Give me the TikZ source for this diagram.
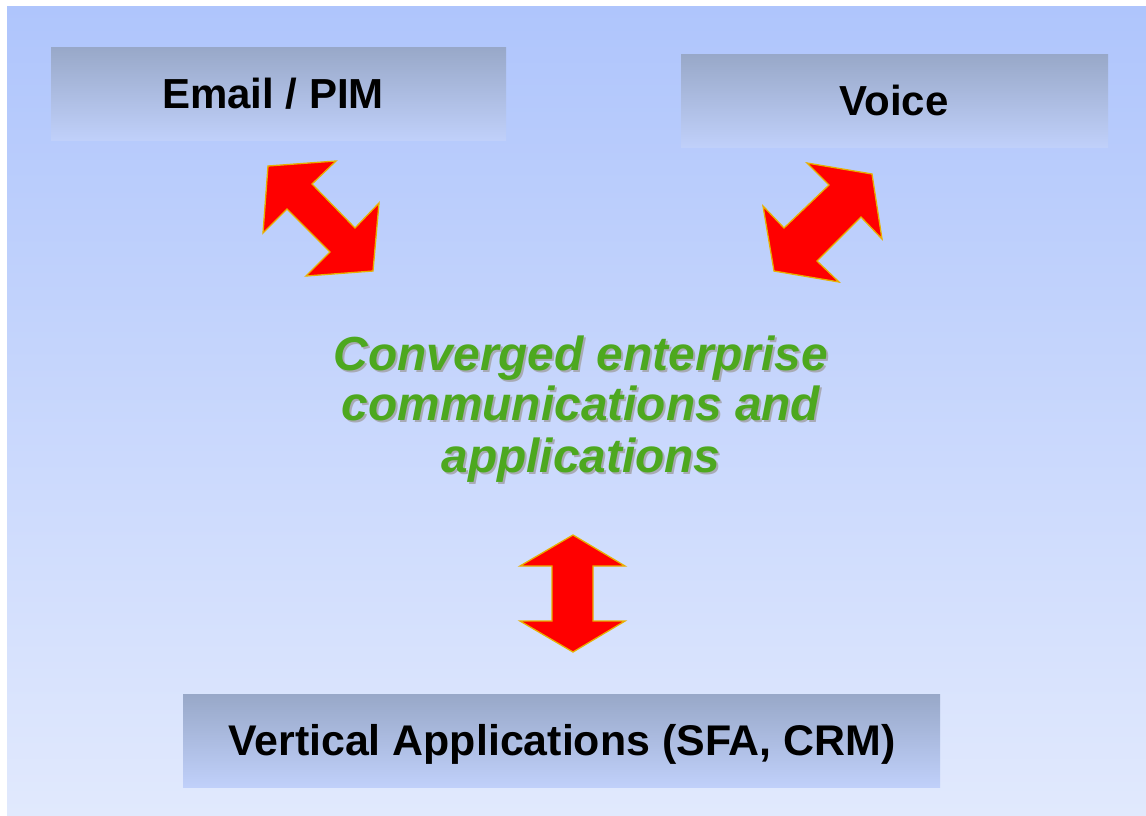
\documentclass[tikz,border=0pt]{standalone}
\usepackage{fontspec}
\setmainfont{Liberation Sans}
\definecolor{bgtop}{RGB}{175,197,252}
\definecolor{bgbot}{RGB}{225,233,253}
\definecolor{boxtop}{RGB}{152,168,200}
\definecolor{boxbot}{RGB}{192,208,250}
\definecolor{greentxt}{RGB}{77,168,31}
\definecolor{shadowgray}{RGB}{168,170,180}
\definecolor{arrowedge}{RGB}{232,176,0}
\begin{document}
\begin{tikzpicture}[x=1pt,y=-1pt,
  boxbg/.style={top color=boxtop,bottom color=boxbot,draw=none},
  boxlabel/.style={font=\fontsize{42}{50}\selectfont\bfseries,anchor=base,inner sep=0pt,text=black},
  greenline/.style={font=\fontsize{47.8}{51}\selectfont\bfseries\itshape,anchor=base,inner sep=0pt,text=greentxt},
  shadowline/.style={font=\fontsize{47.8}{51}\selectfont\bfseries\itshape,anchor=base,inner sep=0pt,text=shadowgray},
  blockarrow/.style={fill=red,draw=arrowedge,line width=1.3pt,line join=miter}]
\useasboundingbox (0,0) rectangle (1146,815);
\fill[white] (0,0) rectangle (1146,815);
\shade[top color=bgtop,bottom color=bgbot] (7,6) rectangle (1146,815);
% boxes
\shade[boxbg] (51,47) rectangle (506,140);
\shade[boxbg] (681,54) rectangle (1108,147);
\shade[boxbg] (183,694) rectangle (940,787);
\node[boxlabel] (email) at (273,108) {Email / PIM};
\node[boxlabel] (voice) at (894,115) {Voice};
\node[boxlabel,font=\fontsize{42.9}{50}\selectfont\bfseries] (vert) at (562,755) {Vertical Applications (SFA, CRM)};
% central text
\node[shadowline] (s1) at (583,372) {Converged enterprise};
\node[shadowline] (s2) at (583,422) {communications and};
\node[shadowline] (s3) at (583,474) {applications};
\node[greenline] (g1) at (581,370) {Converged enterprise};
\node[greenline] (g2) at (581,420) {communications and};
\node[greenline] (g3) at (581,472) {applications};
% block arrows
\draw[blockarrow] (336,161) -- (268,166) -- (263,233) -- (287,209) -- (330,252) -- (306,276) -- (373,271) -- (379,203) -- (355,228) -- (312,184) -- cycle;
\draw[blockarrow] (807,163) -- (872,174) -- (882,239) -- (861,217) -- (817,261) -- (839,282) -- (774,271) -- (763,206) -- (784,228) -- (829,185) -- cycle;
\draw[blockarrow] (573,535) -- (625,566) -- (593,566) -- (593,621) -- (625,621) -- (573,652) -- (520,621) -- (552,621) -- (552,566) -- (520,566) -- cycle;
\end{tikzpicture}
\end{document}
